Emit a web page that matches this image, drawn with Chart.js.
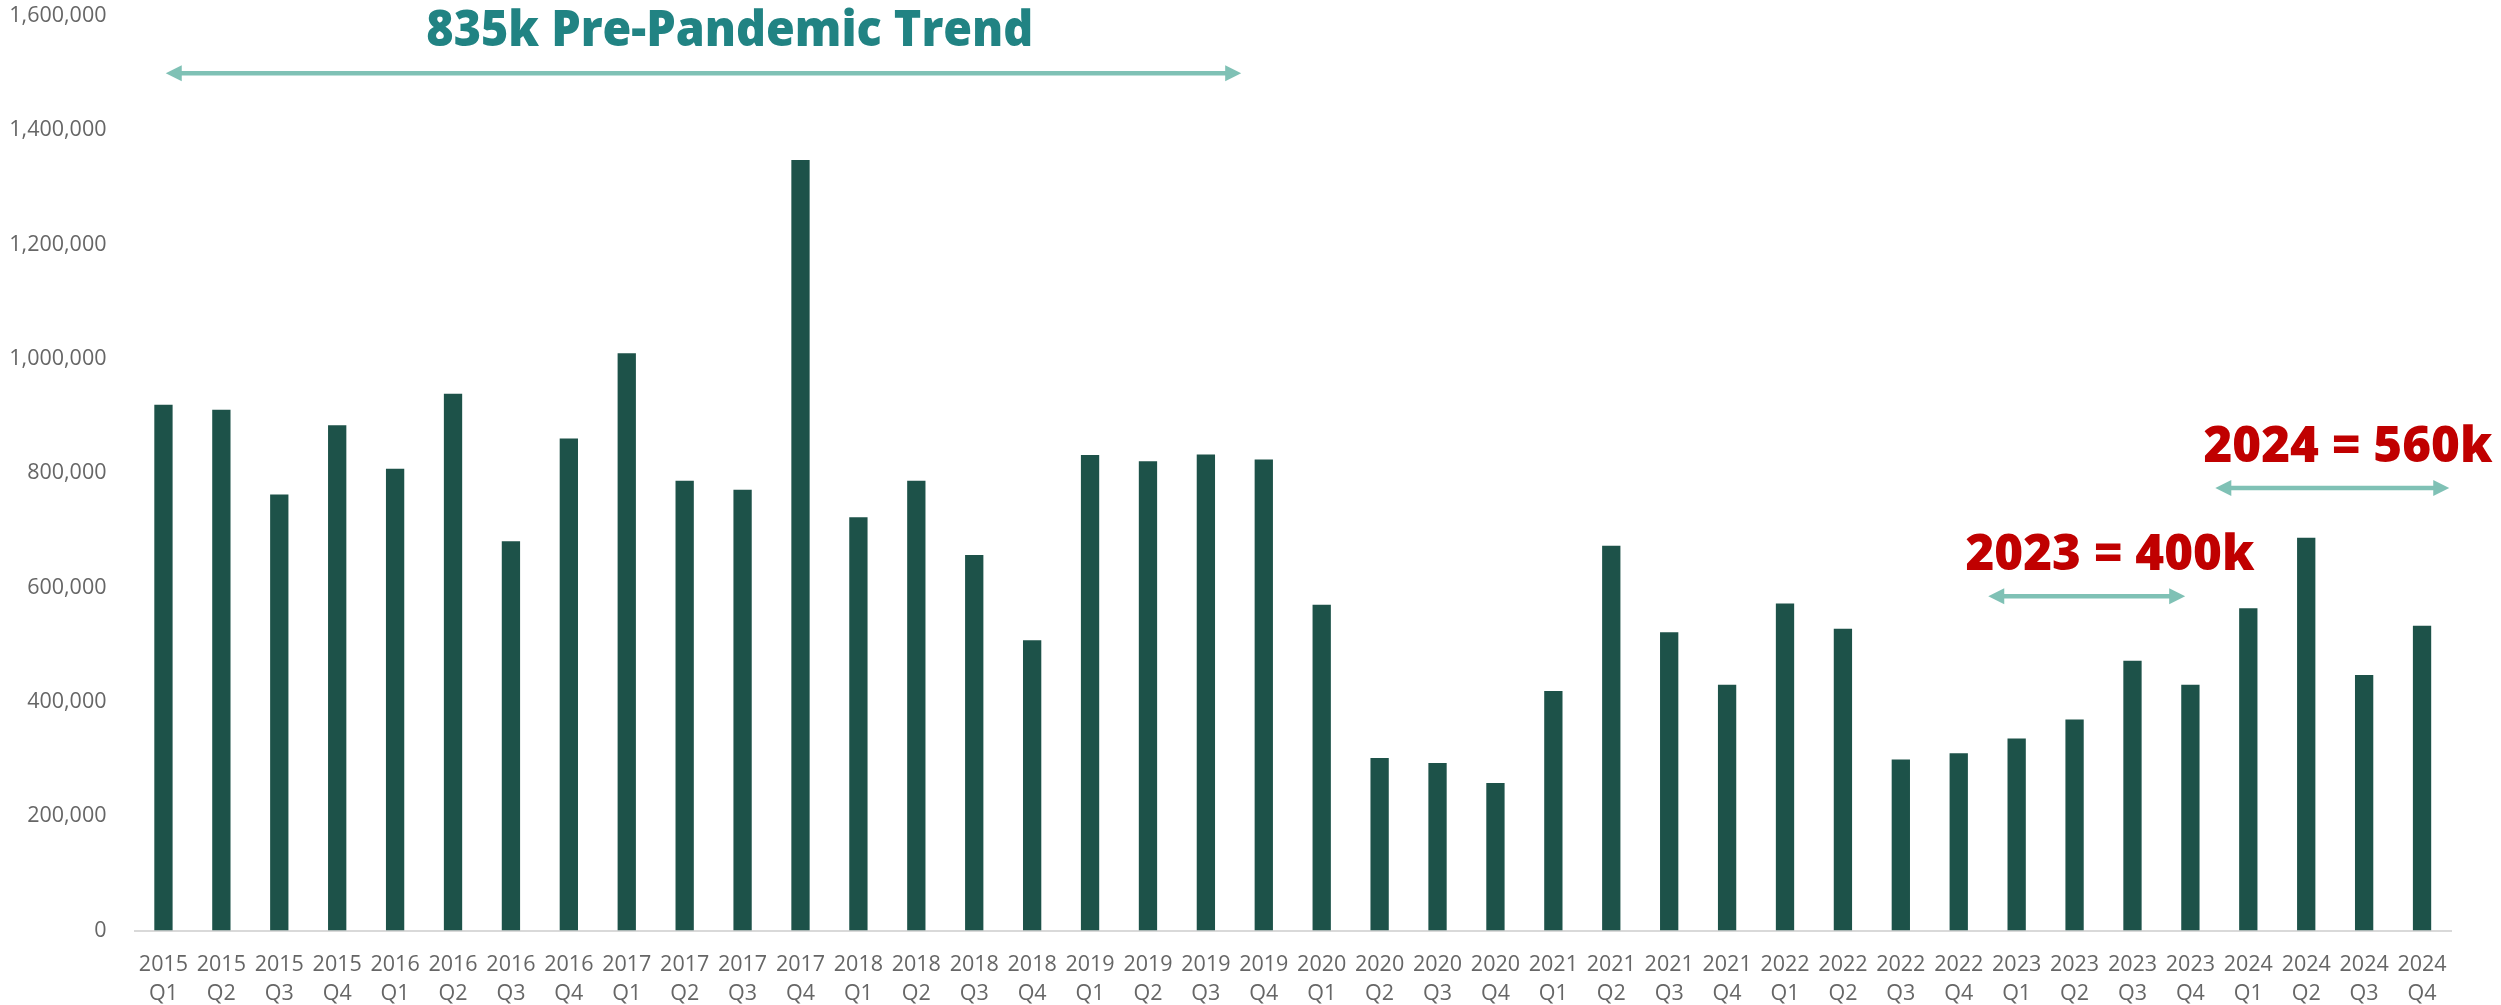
<!DOCTYPE html>
<html>
<head>
<meta charset="utf-8">
<title>Quarterly totals 2015-2024</title>
<script src="https://cdn.jsdelivr.net/npm/chart.js@4.4.1/dist/chart.umd.min.js"></script>
<style>
  html, body { margin: 0; padding: 0; background: #fff; }
  #wrap { width: 2501px; height: 1005px; position: relative; }
</style>
</head>
<body>
<div id="wrap"><canvas id="chart"></canvas></div>
<script>
// data
const years = [2015, 2016, 2017, 2018, 2019, 2020, 2021, 2022, 2023, 2024];
const quarters = ["Q1", "Q2", "Q3", "Q4"];
const values = [
  920000, 911000, 763000, 884000,
  808000, 939000, 681000, 861000,
  1010000, 787000, 771000, 1348000,
  723000, 787000, 657000, 508000,
  832000, 821000, 833000, 824000,
  570000, 302000, 293000, 258000,
  419000, 673000, 522000, 430000,
  572000, 528000, 299000, 310000,
  336000, 369000, 472000, 430000,
  564000, 687000, 447000, 533000
];
const yTicks = [0, 200000, 400000, 600000, 800000, 1000000, 1200000, 1400000, 1600000];

// two-line tick labels: "2015" / "Q1"
const labels = [];
years.forEach((y) => quarters.forEach((q) => labels.push([String(y), q])));

// annotation texts, spans given in category index / value units
const notes = [
  { text: "835k Pre-Pandemic Trend", color: "#218383", from: 0.04, to: 18.61, arrowY: 1500000, textX: 9.78, textY: 1576000, width: 607 },
  { text: "2023 = 400k", color: "#c00000", from: 31.51, to: 34.91, arrowY: 585000, textX: 33.61, textY: 659000, width: 289 },
  { text: "2024 = 560k", color: "#c00000", from: 35.43, to: 39.47, arrowY: 774000, textX: 37.72, textY: 847000, width: 289 }
];

const arrowColor = "#7fc1b5";

// draws arrows and captions on top of the bars
const notesPlugin = {
  id: "notes",
  afterDatasetsDraw(chart) {
    const ctx = chart.ctx;
    const xs = chart.scales.x;
    const ys = chart.scales.y;
    notes.forEach((n) => {
      const x1 = xs.getPixelForValue(n.from);
      const x2 = xs.getPixelForValue(n.to);
      const y = ys.getPixelForValue(n.arrowY);
      const head = 16, half = 8;
      ctx.save();
      ctx.strokeStyle = arrowColor;
      ctx.fillStyle = arrowColor;
      ctx.lineWidth = 4.5;
      ctx.beginPath();
      ctx.moveTo(x1 + head - 1, y);
      ctx.lineTo(x2 - head + 1, y);
      ctx.stroke();
      ctx.beginPath();
      ctx.moveTo(x1, y);
      ctx.lineTo(x1 + head, y - half);
      ctx.lineTo(x1 + head, y + half);
      ctx.closePath();
      ctx.fill();
      ctx.beginPath();
      ctx.moveTo(x2, y);
      ctx.lineTo(x2 - head, y - half);
      ctx.lineTo(x2 - head, y + half);
      ctx.closePath();
      ctx.fill();

      // caption, squeezed to the reference width
      ctx.font = "800 49px 'Open Sans'";
      ctx.textAlign = "center";
      ctx.textBaseline = "middle";
      ctx.fillStyle = n.color;
      const w = ctx.measureText(n.text).width;
      const tx = xs.getPixelForValue(n.textX);
      const ty = ys.getPixelForValue(n.textY);
      ctx.translate(tx, ty);
      ctx.scale(n.width / w, 1);
      ctx.fillText(n.text, 0, 2);
      ctx.restore();
    });
  }
};

const chart = new Chart(document.getElementById("chart").getContext("2d"), {
  type: "bar",
  data: {
    labels: labels,
    datasets: [
      {
        data: values,
        backgroundColor: "#1d5249",
        borderWidth: 0,
        barPercentage: 0.316,
        categoryPercentage: 1.0
      }
    ]
  },
  options: {
    responsive: true,
    maintainAspectRatio: false,
    animation: false,
    layout: { padding: { top: 0, right: 50, left: 0, bottom: 0 } },
    plugins: {
      legend: { display: false },
      tooltip: { enabled: false }
    },
    scales: {
      x: {
        grid: { display: false, drawTicks: false },
        border: { display: true, color: "#d9d9d9", width: 2 },
        ticks: {
          color: "#666",
          font: { family: "'Open Sans'", size: 21.5, lineHeight: 1.36 },
          padding: 20,
          maxRotation: 0,
          autoSkip: false
        },
        afterFit: (scale) => { scale.height = 74.5; }
      },
      y: {
        min: 0,
        max: 1600000,
        grid: { display: false, drawTicks: false },
        border: { display: false },
        afterBuildTicks: (scale) => { scale.ticks = yTicks.map((v) => ({ value: v })); },
        ticks: {
          color: "#666",
          font: { family: "'Open Sans'", size: 21.5 },
          padding: 28,
          callback: (v) => Number(v).toLocaleString("en-US")
        },
        afterFit: (scale) => {
          scale.width = 134.5;
          // keep the top tick label half out of the plot like the original
          scale.paddingTop = 16;
          scale.paddingBottom = 0;
        }
      }
    }
  },
  plugins: [notesPlugin]
});
</script>
</body>
</html>
